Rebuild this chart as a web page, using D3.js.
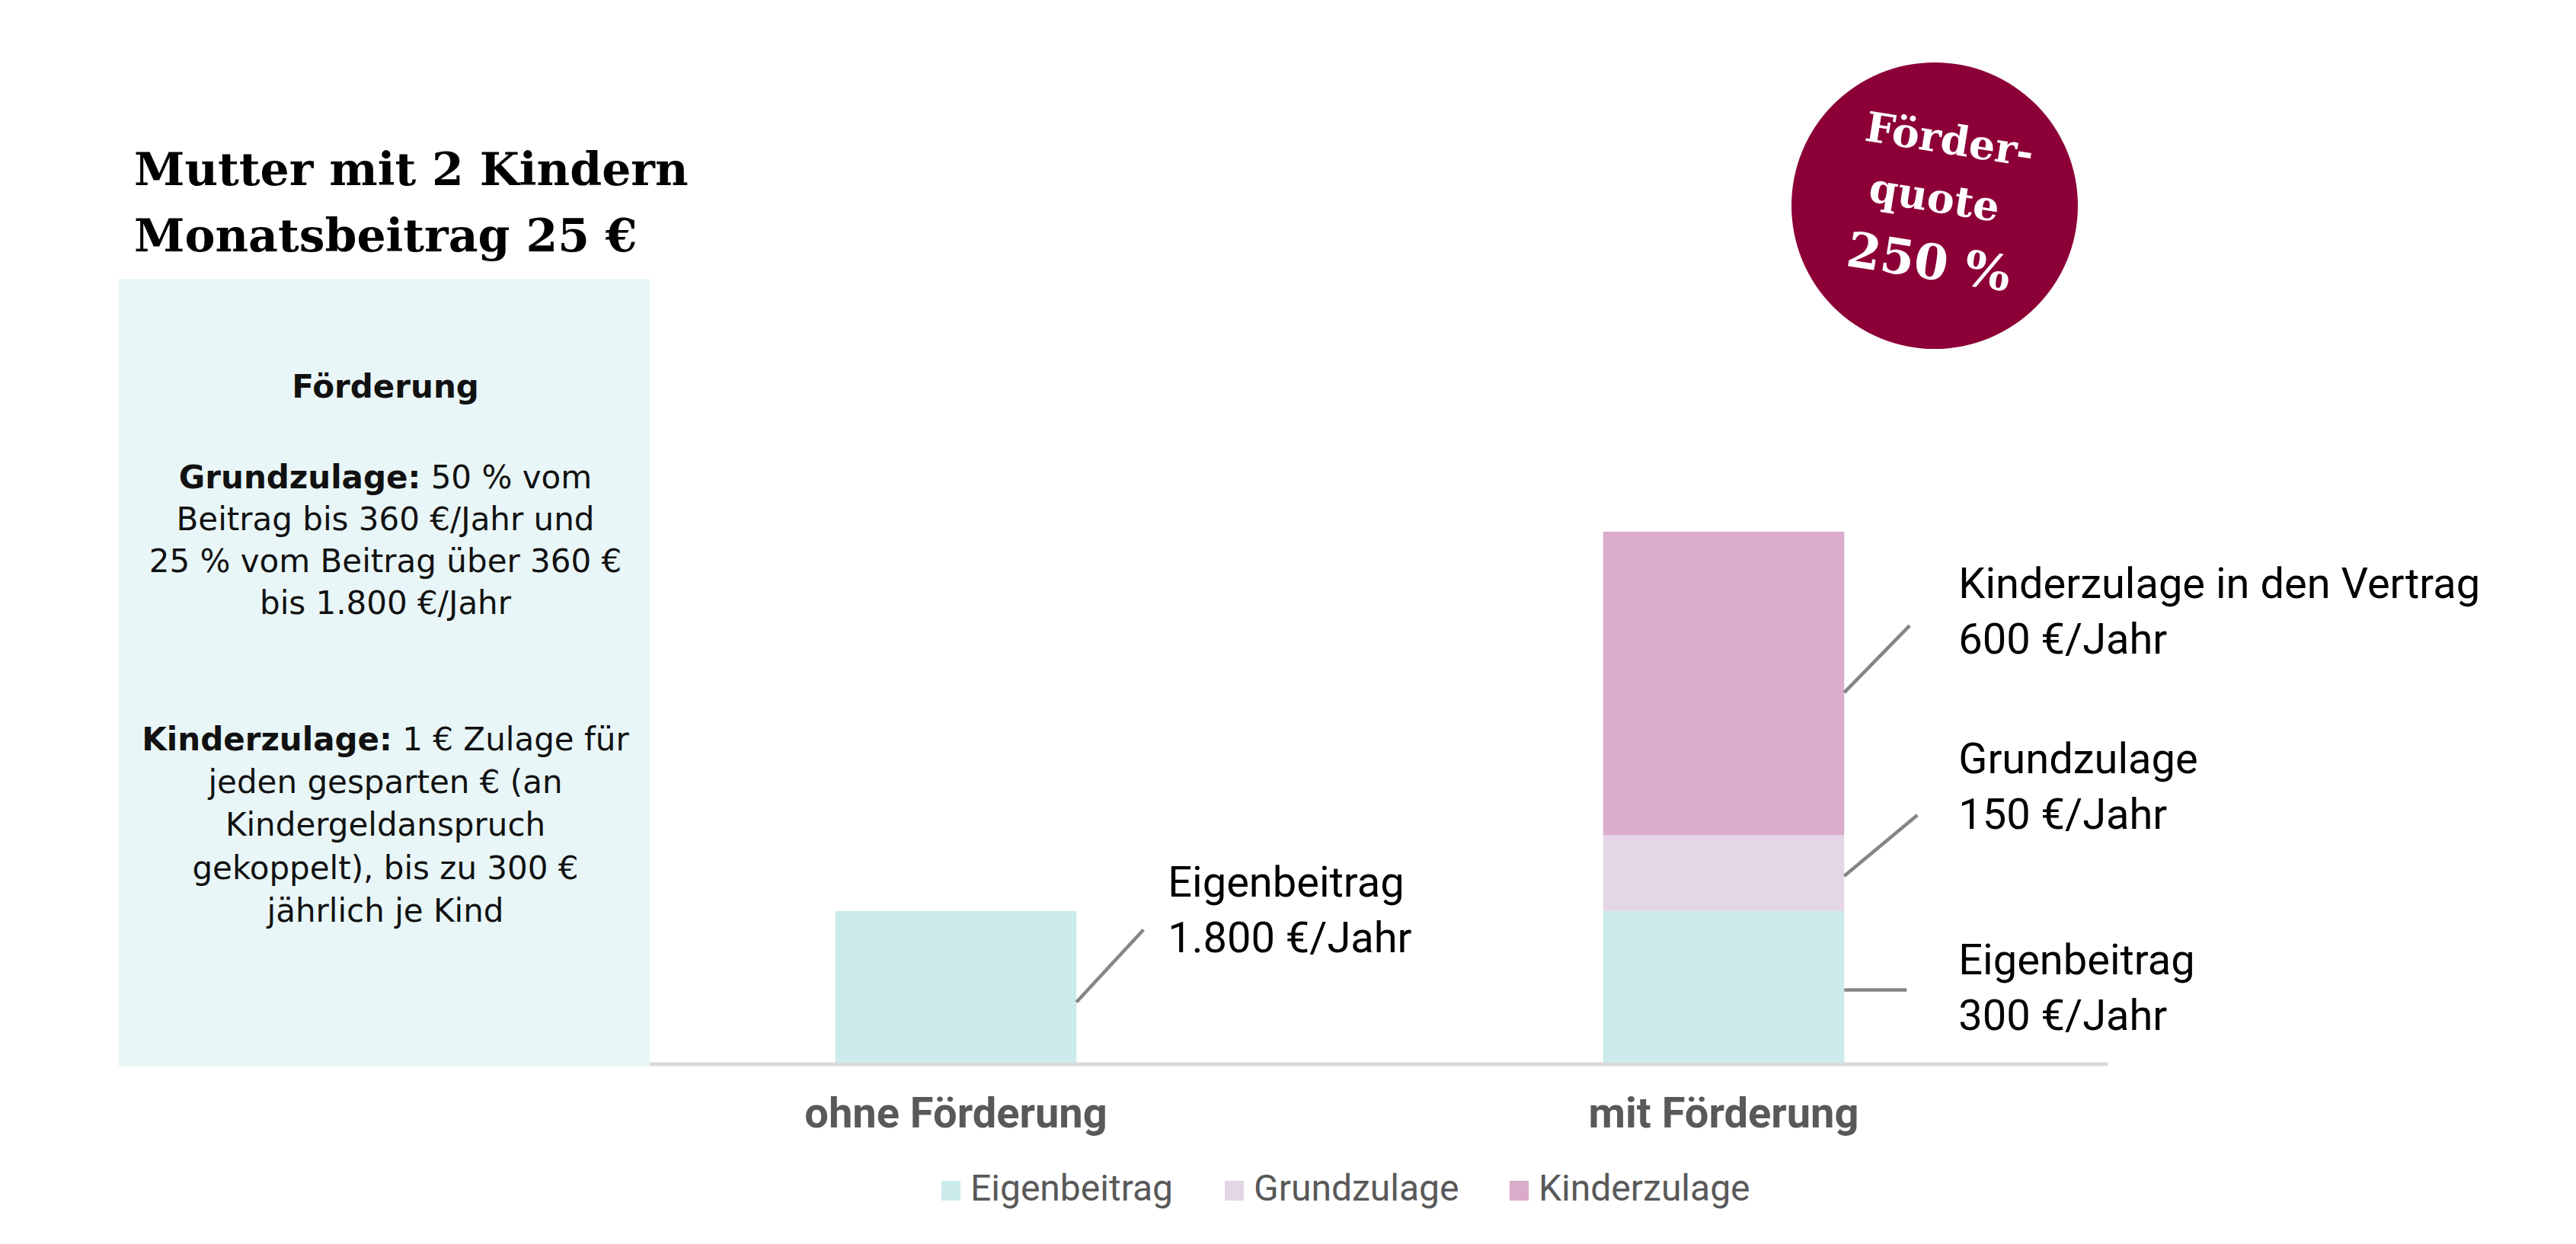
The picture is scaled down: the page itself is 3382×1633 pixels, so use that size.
<!DOCTYPE html>
<html>
<head>
<meta charset="utf-8">
<script src="https://cdn.jsdelivr.net/npm/d3@7"></script>
<style>
  body { margin: 0; background: #fff; }
  svg { display: block; }
</style>
</head>
<body>
<div id="chart"></div>
<script>
// chart values
var categories = ["ohne Förderung", "mit Förderung"];
var seriesKeys = ["Eigenbeitrag", "Grundzulage", "Kinderzulage"];
var eigenbeitrag = [300, 300];   // drawn heights (bar of "ohne" is drawn as tall as 300)
var grundzulage = [0, 150];
var kinderzulage = [0, 600];
var seriesColors = ["#cbebec", "#e4d6e6", "#dbabcb"];

// annotation texts next to the bars
var annoCategory = ["ohne Förderung", "mit Förderung", "mit Förderung", "mit Förderung"];
var annoSeries = ["Eigenbeitrag", "Kinderzulage", "Grundzulage", "Eigenbeitrag"];
var annoLine1 = ["Eigenbeitrag", "Kinderzulage in den Vertrag", "Grundzulage", "Eigenbeitrag"];
var annoLine2 = ["1.800 €/Jahr", "600 €/Jahr", "150 €/Jahr", "300 €/Jahr"];

var titleLines = ["Mutter mit 2 Kindern", "Monatsbeitrag 25 €"];
var badgeLines = ["Förder-", "quote", "250 %"];

var W = 3382, H = 1633;
var svg = d3.select("#chart").append("svg")
  .attr("width", W).attr("height", H);

var narrow = "Roboto, 'Liberation Sans Narrow', sans-serif";
var serif = "'DejaVu Serif', 'Liberation Serif', serif";
var sans = "'DejaVu Sans', 'Open Sans', sans-serif";

// build table for the stack
var table = categories.map(function(c, i) {
  return { cat: c, Eigenbeitrag: eigenbeitrag[i], Grundzulage: grundzulage[i], Kinderzulage: kinderzulage[i] };
});
var stack = d3.stack().keys(seriesKeys)(table);

var baseline = 1395;
var x = d3.scaleBand().domain(categories).range([751, 2767]).paddingInner(0.686).paddingOuter(0.343);
var y = d3.scaleLinear().domain([0, 1050]).range([baseline, 698]);
var color = d3.scaleOrdinal().domain(seriesKeys).range(seriesColors);

// axis line (goes under the info box on the left)
svg.append("line")
  .attr("x1", x.range()[0]).attr("x2", x.range()[1])
  .attr("y1", baseline + 2).attr("y2", baseline + 2)
  .style("stroke", "#d9d9d9").style("stroke-width", 5);

// info box
var box = svg.append("g");
box.append("rect")
  .attr("x", 156).attr("y", 366).attr("width", 697).attr("height", baseline + 5 - 366)
  .style("fill", "#e9f6f7");

var boxLines = [
  { y: 522, parts: [["Förderung", true]] },
  { y: 641, parts: [["Grundzulage:", true], [" 50 % vom", false]] },
  { y: 696, parts: [["Beitrag bis 360 €/Jahr und", false]] },
  { y: 751, parts: [["25 % vom Beitrag über 360 €", false]] },
  { y: 806, parts: [["bis 1.800 €/Jahr", false]] },
  { y: 985, parts: [["Kinderzulage:", true], [" 1 € Zulage für", false]] },
  { y: 1041, parts: [["jeden gesparten € (an", false]] },
  { y: 1097, parts: [["Kindergeldanspruch", false]] },
  { y: 1154, parts: [["gekoppelt), bis zu 300 €", false]] },
  { y: 1210, parts: [["jährlich je Kind", false]] }
];
boxLines.forEach(function(l) {
  var t = box.append("text")
    .attr("x", 506).attr("y", l.y)
    .attr("text-anchor", "middle")
    .style("font-family", sans).style("font-size", "42px").style("fill", "#111");
  l.parts.forEach(function(p) {
    t.append("tspan").text(p[0]).style("font-weight", p[1] ? "700" : "400");
  });
});

// title
svg.selectAll(".title").data(titleLines).enter().append("text")
  .attr("class", "title")
  .attr("x", 176)
  .attr("y", function(d, i) { return 243 + i * 87; })
  .style("font-family", serif).style("font-weight", "700").style("font-size", "60px")
  .style("fill", "#000")
  .text(function(d) { return d; });

// bars
var layer = svg.selectAll(".layer").data(stack).enter().append("g")
  .attr("class", "layer")
  .style("fill", function(d) { return color(d.key); });
layer.selectAll("rect").data(function(d) { return d; }).enter().append("rect")
  .attr("x", function(d) { return x(d.data.cat); })
  .attr("y", function(d) { return y(d[1]); })
  .attr("width", x.bandwidth())
  .attr("height", function(d) { return y(d[0]) - y(d[1]); });

// category labels
svg.selectAll(".cat").data(categories).enter().append("text")
  .attr("class", "cat")
  .attr("x", function(d) { return x(d) + x.bandwidth() / 2; })
  .attr("y", 1480)
  .attr("text-anchor", "middle")
  .style("font-family", narrow).style("font-weight", "700").style("font-size", "56px")
  .style("fill", "#595959")
  .text(function(d) { return d; });

// annotations with leader lines
var leader = [
  { dy0: 20, dx: 88, dy: -95, tx: 120, ty: -138 },
  { dy0: 12, dx: 86, dy: -88, tx: 150, ty: -124 },
  { dy0: 4, dx: 96, dy: -80, tx: 150, ty: -135 },
  { dy0: 4, dx: 82, dy: 0, tx: 150, ty: -20 }
];
annoCategory.forEach(function(c, i) {
  var s = stack[seriesKeys.indexOf(annoSeries[i])][categories.indexOf(c)];
  var x0 = x(c) + x.bandwidth();
  var y0 = (y(s[0]) + y(s[1])) / 2 + leader[i].dy0;
  svg.append("line")
    .attr("x1", x0).attr("y1", y0)
    .attr("x2", x0 + leader[i].dx).attr("y2", y0 + leader[i].dy)
    .style("stroke", "#858585").style("stroke-width", 4.5);
  var t = svg.append("text")
    .attr("x", x0 + leader[i].tx)
    .attr("y", y0 + leader[i].ty)
    .style("font-family", narrow).style("font-size", "56px").style("fill", "#000");
  t.append("tspan").text(annoLine1[i]);
  t.append("tspan").attr("x", x0 + leader[i].tx).attr("dy", 73).text(annoLine2[i]);
});

// legend
var legendX = [1236, 1608, 1982];
var legend = svg.selectAll(".leg").data(seriesKeys).enter().append("g")
  .attr("class", "leg")
  .attr("transform", function(d, i) { return "translate(" + legendX[i] + ",1550)"; });
legend.append("rect")
  .attr("width", 25).attr("height", 26)
  .style("fill", function(d) { return color(d); });
legend.append("text")
  .attr("x", 38).attr("y", 26)
  .style("font-family", narrow).style("font-size", "48px").style("fill", "#595959")
  .text(function(d) { return d; });

// badge
var badge = svg.append("g").attr("transform", "translate(2540,270)");
badge.append("circle").attr("r", 188).style("fill", "#8c0037");
var badgeText = badge.append("g").attr("transform", "rotate(9)");
badgeText.selectAll("text").data(badgeLines).enter().append("text")
  .attr("x", function(d, i) { return [6, -2, 4][i]; })
  .attr("y", function(d, i) { return [-70, 8, 96][i]; })
  .attr("text-anchor", "middle")
  .style("font-family", serif).style("font-weight", "700")
  .style("font-size", function(d, i) { return i === 2 ? "64px" : "54px"; })
  .style("fill", "#fff")
  .text(function(d) { return d; });
</script>
</body>
</html>
